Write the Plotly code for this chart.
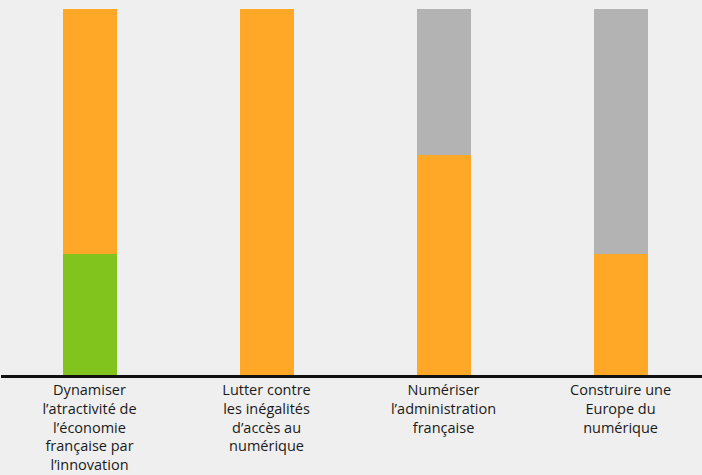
import plotly.graph_objects as go

categories = [
    "Dynamiser<br>l’atractivité de<br>l’économie<br>française par<br>l’innovation",
    "Lutter contre<br>les inégalités<br>d’accès au<br>numérique",
    "Numériser<br>l’administration<br>française",
    "Construire une<br>Europe du<br>numérique",
]
green_vals = [33, 0, 0, 0]
orange_vals = [67, 100, 60, 33]
gray_vals = [0, 0, 40, 67]

colors = {"green": "#82c41e", "orange": "#ffa726", "gray": "#b3b3b3"}

x = list(range(len(categories)))
fig = go.Figure()
for name, vals in [("green", green_vals), ("orange", orange_vals), ("gray", gray_vals)]:
    fig.add_bar(x=x, y=vals, marker=dict(color=colors[name], line=dict(width=0)),
                width=0.305, showlegend=False, hoverinfo="skip")

fig.update_layout(
    barmode="stack",
    width=702, height=475,
    margin=dict(l=1, r=0, t=9, b=100),
    paper_bgcolor="#efefef", plot_bgcolor="#efefef",
    font=dict(family="Open Sans, sans-serif", size=14.5, color="#1a1a1a"),
    xaxis=dict(
        tickmode="array", tickvals=x, ticktext=categories,
        range=[-0.5, 3.46], showgrid=False, zeroline=False,
        showline=True, linecolor="#111111", linewidth=2.5,
        ticks="", tickfont=dict(size=14.5), ticklabelstandoff=0,
        automargin=False,
    ),
    yaxis=dict(range=[0, 100], visible=False, automargin=False),
)
fig.write_html(
    "out.html",
    config={"displayModeBar": False, "staticPlot": True},
    post_script="document.body.style.margin='0';document.body.style.background='#efefef';",
)
